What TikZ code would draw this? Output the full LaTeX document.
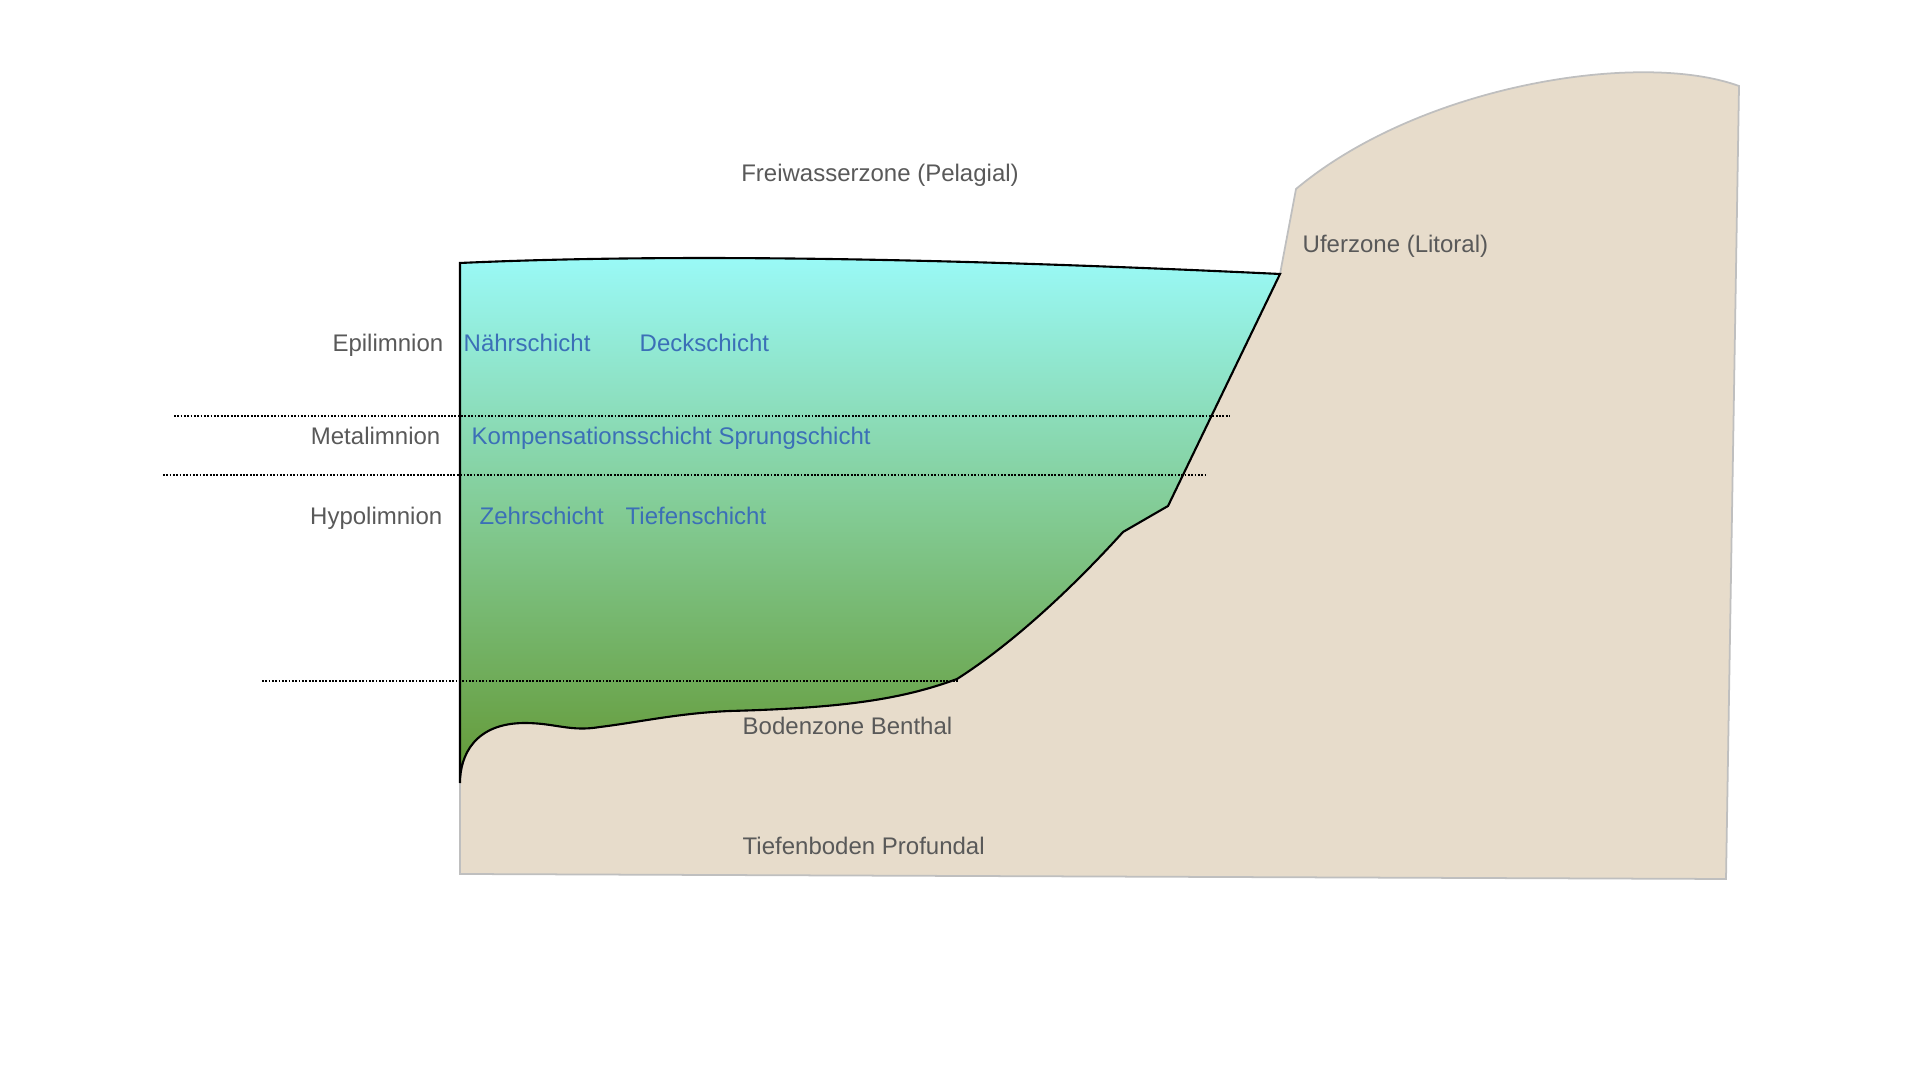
\documentclass[tikz,border=0pt]{standalone}
\usepackage{fontspec}
\setmainfont{Liberation Sans}
\usepackage{tikz}

\definecolor{landfill}{HTML}{E7DCCB}
\definecolor{landline}{HTML}{BFBFBF}
\definecolor{watertop}{HTML}{9AFAF8}
\definecolor{watermid}{HTML}{82CA92}
\definecolor{waterbot}{HTML}{639834}
\definecolor{zonegray}{HTML}{595959}
\definecolor{layerblue}{HTML}{3B6FB7}

\tikzset{
  zone/.style={inner sep=0pt, text=zonegray, font=\fontsize{6.83}{8}\selectfont},
  layer/.style={zone, text=layerblue},
  thermo/.style={line width=0.6pt, dash pattern=on 0.5pt off 0.45pt}
}

\begin{document}
\begin{tikzpicture}
\useasboundingbox (0,0) rectangle (19.2,10.8);

\coordinate (LBL) at (4.60,2.06);
\coordinate (LBR) at (17.26,2.01);
\coordinate (LTR) at (17.39,9.94);
\coordinate (LN) at (12.96,8.91);
\coordinate (W0) at (4.60,8.17);
\coordinate (S0) at (12.80,8.06);
\coordinate (S1) at (11.68,5.74);
\coordinate (S2) at (11.23,5.48);
\coordinate (S3) at (9.57,4.01);
\coordinate (S4) at (7.30,3.69);
\coordinate (S5) at (6.00,3.53);
\coordinate (S6) at (5.25,3.57);
\coordinate (T) at (4.60,2.97);

% land
\filldraw[fill=landfill, draw=landline, line width=0.5pt]
  (T) -- (LBL) -- (LBR) -- (LTR)
  .. controls (16.4,10.3) and (14.2,9.95) .. (LN) -- (S0) -- (S1) -- (S2)
  .. controls (10.75,4.95) and (10.15,4.38) .. (S3)
  .. controls (9.00,3.80) and (8.40,3.72) .. (S4)
  .. controls (6.80,3.67) and (6.40,3.58) .. (S5)
  .. controls (5.70,3.48) and (5.55,3.57) .. (S6)
  .. controls (4.75,3.57) and (4.60,3.25) .. (T) -- cycle;

% water
\draw[line width=0.6pt, top color=watertop, bottom color=waterbot, middle color=watermid]
  (W0) .. controls (6.6,8.26) and (9.2,8.23) .. (S0) -- (S1) -- (S2)
  .. controls (10.75,4.95) and (10.15,4.38) .. (S3)
  .. controls (9.00,3.80) and (8.40,3.72) .. (S4)
  .. controls (6.80,3.67) and (6.40,3.58) .. (S5)
  .. controls (5.70,3.48) and (5.55,3.57) .. (S6)
  .. controls (4.75,3.57) and (4.60,3.25) .. (T) -- cycle;

% layer borders
\coordinate (D1a) at (1.74,6.64);
\coordinate (D1b) at (12.30,6.64);
\coordinate (D2a) at (1.63,6.05);
\coordinate (D2b) at (12.05,6.05);
\coordinate (D3a) at (2.62,3.99);
\coordinate (D3b) at (9.58,3.99);
\draw[thermo] (D1a) -- (D1b);
\draw[thermo] (D2a) -- (D2b);
\draw[thermo] (D3a) -- (D3b);

\node[zone, anchor=base] (pelagial) at (8.80,8.98) {Freiwasserzone (Pelagial)};
\node[zone, anchor=base west] (litoral) at (13.02,8.27) {Uferzone (Litoral)};
\node[zone, anchor=base east] (epi) at (4.44,7.28) {Epilimnion};
\node[zone, anchor=base east] (meta) at (4.41,6.35) {Metalimnion};
\node[zone, anchor=base east] (hypo) at (4.43,5.55) {Hypolimnion};
\node[layer, anchor=base west] (naehr) at (4.63,7.28) {Nährschicht};
\node[layer, anchor=base west] (deck) at (6.39,7.28) {Deckschicht};
\node[layer, anchor=base west] (komp) at (4.71,6.35) {Kompensationsschicht Sprungschicht};
\node[layer, anchor=base west] (zehr) at (4.79,5.55) {Zehrschicht};
\node[layer, anchor=base west] (tiefe) at (6.25,5.55) {Tiefenschicht};
\node[zone, anchor=base west] (benthal) at (7.42,3.45) {Bodenzone Benthal};
\node[zone, anchor=base west] (profundal) at (7.42,2.25) {Tiefenboden Profundal};
\end{tikzpicture}
\end{document}
